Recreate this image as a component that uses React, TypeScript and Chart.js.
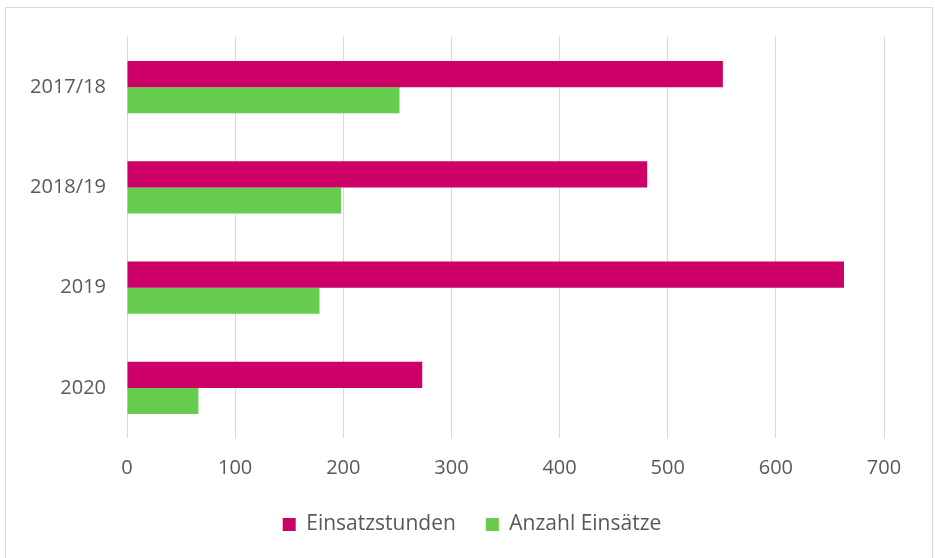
import React, { useEffect, useRef } from "react";
import { Chart, registerables } from "chart.js";

Chart.register(...registerables);

const categories = ["2017/18", "2018/19", "2019", "2020"];
const einsatzstunden = [551, 481, 663, 273];
const anzahlEinsaetze = [252, 198, 178, 66];
const seriesNames = ["Einsatzstunden", "Anzahl Einsätze"];
const xMin = 0;
const xMax = 700;
const xStep = 100;

const FONT = "'Open Sans', 'DejaVu Sans', sans-serif";
const TEXT = "#595959";

const framePlugin = {
  id: "frame",
  beforeDraw(chart: any) {
    const ctx = chart.ctx;
    ctx.save();
    ctx.fillStyle = "#ffffff";
    ctx.fillRect(0, 0, chart.width, chart.height);
    ctx.strokeStyle = "#d9d9d9";
    ctx.lineWidth = 1;
    ctx.strokeRect(5.5, 7.5, 927, 580);
    ctx.restore();
  },
};

export default function App() {
  const ref = useRef<HTMLCanvasElement | null>(null);
  useEffect(() => {
    if (!ref.current) return;
    const chart = new Chart(ref.current, {
      type: "bar",
      data: {
        labels: categories,
        datasets: [
          {
            label: seriesNames[0],
            data: einsatzstunden,
            backgroundColor: "#CC0066",
            borderWidth: 0,
          },
          {
            label: seriesNames[1],
            data: anzahlEinsaetze,
            backgroundColor: "#66CC4D",
            borderWidth: 0,
          },
        ],
      },
      options: {
        indexAxis: "y",
        animation: false,
        responsive: true,
        maintainAspectRatio: false,
        layout: { padding: { top: 37, right: 0, bottom: 13, left: 9 } },
        datasets: { bar: { categoryPercentage: 0.52, barPercentage: 1 } },
        scales: {
          x: {
            min: xMin,
            max: xMax,
            grid: { color: "#d9d9d9", lineWidth: 1, drawTicks: false },
            border: { display: false },
            ticks: {
              stepSize: xStep,
              padding: 18,
              color: TEXT,
              font: { family: FONT, size: 20 },
            },
            afterFit: (s: any) => {
              s.height = 46;
            },
          },
          y: {
            grid: { display: false },
            border: { display: false },
            ticks: {
              padding: 13,
              color: TEXT,
              font: { family: FONT, size: 20 },
            },
            afterFit: (s: any) => {
              s.width = 118;
            },
          },
          yRight: {
            type: "category",
            position: "right",
            grid: { display: false },
            border: { display: false },
            ticks: { display: false },
            afterFit: (s: any) => {
              s.width = 51;
            },
          },
        },
        plugins: {
          legend: {
            position: "bottom",
            labels: {
              color: TEXT,
              font: { family: FONT, size: 21 },
              boxWidth: 13,
              boxHeight: 13,
              padding: 30,
            },
          },
          tooltip: { enabled: false },
        },
      },
      plugins: [framePlugin],
    });
    return () => chart.destroy();
  }, []);
  return (
    <div style={{ position: "fixed", left: 0, top: 0, width: 935, height: 558, background: "#fff" }}>
      <canvas ref={ref} />
    </div>
  );
}
